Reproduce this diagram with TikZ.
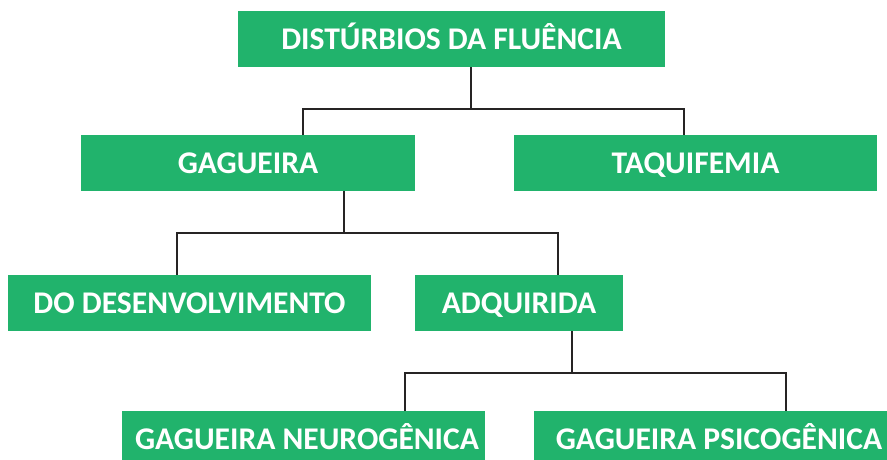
\documentclass[tikz,border=0pt]{standalone}
\usepackage{fontspec}
\setmainfont{Carlito}
\definecolor{boxgreen}{HTML}{21B36C}
\definecolor{linegray}{HTML}{262424}
\begin{document}
\begin{tikzpicture}[x=1pt,y=-1pt,
  catbox/.style={fill=boxgreen, draw=none, inner sep=0pt, minimum height=56pt,
    text height=20.4pt, text depth=0pt,
    text=white, font=\fontsize{31.6}{31.6}\selectfont\bfseries},
  link/.style={draw=linegray, line width=2.8pt}]
\useasboundingbox (0,0) rectangle (887,460);
\begin{scope}
\clip (0,0) rectangle (887,460);
\node[catbox, minimum width=427pt] (top) at (451.5,39) {DISTÚRBIOS DA FLUÊNCIA};
\node[catbox, minimum width=334pt] (gag) at (248,163) {GAGUEIRA};
\node[catbox, minimum width=363pt] (taq) at (695.5,163) {TAQUIFEMIA};
\node[catbox, minimum width=363pt] (des) at (189.5,303) {DO DESENVOLVIMENTO};
\node[catbox, minimum width=208pt] (adq) at (519,303) {ADQUIRIDA};
\node[catbox, minimum width=363pt] (neu) at (303.5,439) {\hspace*{7pt}GAGUEIRA NEUROGÊNICA};
\node[catbox, minimum width=370pt] (psi) at (719,439) {GAGUEIRA PSICOGÊNICA};
\end{scope}
\coordinate (c1) at (471,109);
\coordinate (c1l) at (303,0);
\coordinate (c1r) at (684,0);
\coordinate (c2) at (344,233);
\coordinate (c2l) at (177,0);
\coordinate (c2r) at (558,0);
\coordinate (c3) at (572,373);
\coordinate (c3l) at (405,0);
\coordinate (c3r) at (786,0);
\draw[link] (top.south -| c1) -- (c1);
\draw[link] (gag.north -| c1l) |- (c1) -| (taq.north -| c1r);
\draw[link] (gag.south -| c2) -- (c2);
\draw[link] (des.north -| c2l) |- (c2) -| (adq.north -| c2r);
\draw[link] (adq.south -| c3) -- (c3);
\draw[link] (neu.north -| c3l) |- (c3) -| (psi.north -| c3r);
\end{tikzpicture}
\end{document}
